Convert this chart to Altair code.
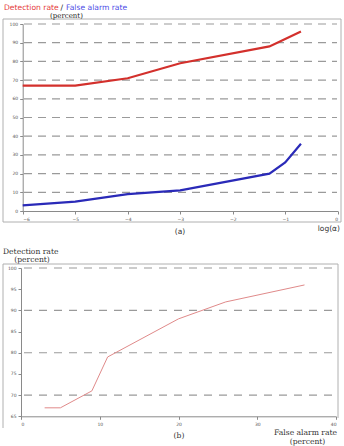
import altair as alt
import pandas as pd

# Threshold settings (log10 of alpha) and the rates measured at each one
log_alpha = [-6, -5, -4, -3, -1.3, -1, -0.7]
detection_rate = [67, 67, 71, 79, 88, 92, 96]
false_alarm_rate = [3, 5, 9, 11, 20, 26, 36]

top_grid = [10, 20, 30, 40, 50, 60, 70, 80, 90, 100]
bottom_grid = [70, 80, 90, 100]
top_x_ticks = [-6, -5, -4, -3, -2, -1, 0]
top_y_ticks = [0, 10, 20, 30, 40, 50, 60, 70, 80, 90, 100]
bottom_x_ticks = [0, 10, 20, 30, 40]
bottom_y_ticks = [65, 70, 75, 80, 85, 90, 95, 100]

W, H = 344, 446
GRID = "#9a9a9a"
AXIS = "#8a8a8a"
FRAME = "#b0b0b0"

long_df = pd.DataFrame(
    {"log_alpha": log_alpha * 2,
     "rate": detection_rate + false_alarm_rate,
     "series": ["Detection rate"] * len(log_alpha) + ["False alarm rate"] * len(log_alpha)}
)
roc_df = pd.DataFrame({"fa": false_alarm_rate, "det": detection_rate})
one = alt.Data(values=[{}])


def label(text, x, y, size, color="#222", font="DejaVu Sans", align="left", weight="normal"):
    return alt.Chart(one).mark_text(
        text=text, fontSize=size, color=color, font=font, align=align,
        baseline="alphabetic", fontWeight=weight,
    ).encode(x=alt.value(x), y=alt.value(y))


def vline(x, y1, y2, color=FRAME):
    return alt.Chart(one).mark_rule(color=color, strokeWidth=1).encode(
        x=alt.value(x), y=alt.value(y1), y2=alt.value(y2))


def hline(y, x1, x2, color=FRAME):
    return alt.Chart(one).mark_rule(color=color, strokeWidth=1).encode(
        y=alt.value(y), x=alt.value(x1), x2=alt.value(x2))


def axis(values, orient, offset):
    return alt.Axis(values=values, title=None, orient=orient, offset=offset,
                    labelFontSize=4.5, labelColor="#555", labelFont="DejaVu Sans",
                    tickSize=3, tickColor=AXIS, domainColor=AXIS, grid=False,
                    labelPadding=2)


# ---- panel (a): rates against log(alpha) ----
xa = alt.Scale(domain=[-6, 0], range=[22.7, 337.7], nice=False, zero=False)
ya = alt.Scale(domain=[0, 100], range=[211, 24], nice=False, zero=False)
axis_a_x = axis(top_x_ticks, "bottom", -(H - 211))
axis_a_y = axis(top_y_ticks, "left", -22.7)

grid_a = alt.Chart(pd.DataFrame({"g": top_grid})).mark_rule(
    color=GRID, strokeWidth=1.2, strokeDash=[8, 6]
).encode(y=alt.Y("g:Q", scale=ya, axis=axis_a_y), x=alt.value(24), x2=alt.value(337))

lines_a = alt.Chart(long_df).mark_line(strokeWidth=2.2).encode(
    x=alt.X("log_alpha:Q", scale=xa, axis=axis_a_x),
    y=alt.Y("rate:Q", scale=ya, axis=axis_a_y),
    color=alt.Color("series:N", legend=None,
                    scale=alt.Scale(domain=["Detection rate", "False alarm rate"],
                                    range=["#d3302c", "#2a2ab8"])),
)

panel_a = alt.layer(grid_a, lines_a)

# ---- panel (b): detection rate against false alarm rate ----
xb = alt.Scale(domain=[0, 40], range=[21, 336], nice=False, zero=False)
yb = alt.Scale(domain=[65, 100], range=[416.3, 268], nice=False, zero=False)
axis_b_x = axis(bottom_x_ticks, "bottom", -(H - 416.3))
axis_b_y = axis(bottom_y_ticks, "left", -21)

grid_b = alt.Chart(pd.DataFrame({"g": bottom_grid})).mark_rule(
    color=GRID, strokeWidth=1.2, strokeDash=[8, 7]
).encode(y=alt.Y("g:Q", scale=yb, axis=axis_b_y), x=alt.value(24), x2=alt.value(336))

line_b = alt.Chart(roc_df).mark_line(strokeWidth=1, color="#e08a8a").encode(
    x=alt.X("fa:Q", scale=xb, axis=axis_b_x),
    y=alt.Y("det:Q", scale=yb, axis=axis_b_y),
    order=alt.Order("fa:Q"),
)

panel_b = alt.layer(grid_b, line_b)

# ---- frames and text ----
decor = alt.layer(
    # frame around (a)
    hline(19, 3, 341), hline(222, 3, 341), vline(3, 19, 222), vline(341, 19, 222),
    # frame around (b)
    hline(264, 3, 338), vline(3, 264, 428), vline(338, 264, 418),
    # headings of (a)
    label("Detection rate", 4, 10, 7.6, color="#e53b3b"),
    label("/", 60.5, 10, 7.6, color="#222"),
    label("False alarm rate", 66, 10, 7.6, color="#4b4be6"),
    label("(percent)", 66.5, 17.5, 7, font="DejaVu Serif", align="center"),
    label("(a)", 180, 234, 7.5, align="center", color="#333"),
    label("log(α)", 340, 231, 7.5, align="right", color="#333"),
    # headings of (b)
    label("Detection rate", 3, 254, 7.6, font="DejaVu Serif", color="#333"),
    label("(percent)", 32, 261.5, 7.6, font="DejaVu Serif", align="center", color="#333"),
    label("(b)", 179, 438, 7.6, font="DejaVu Serif", align="center", color="#333"),
    label("False alarm rate", 337, 434.5, 7.6, font="DejaVu Serif", align="right", color="#333"),
    label("(percent)", 307.5, 443.5, 7.6, font="DejaVu Serif", align="center", color="#333"),
)

chart = alt.layer(panel_a, panel_b, decor).resolve_scale(
    x="independent", y="independent"
).properties(
    width=W, height=H, padding=0,
    autosize=alt.AutoSizeParams(type="none"),
    background="white",
).configure_view(stroke=None)

chart.save("out.html", embed_options={"renderer": "svg", "actions": False})
